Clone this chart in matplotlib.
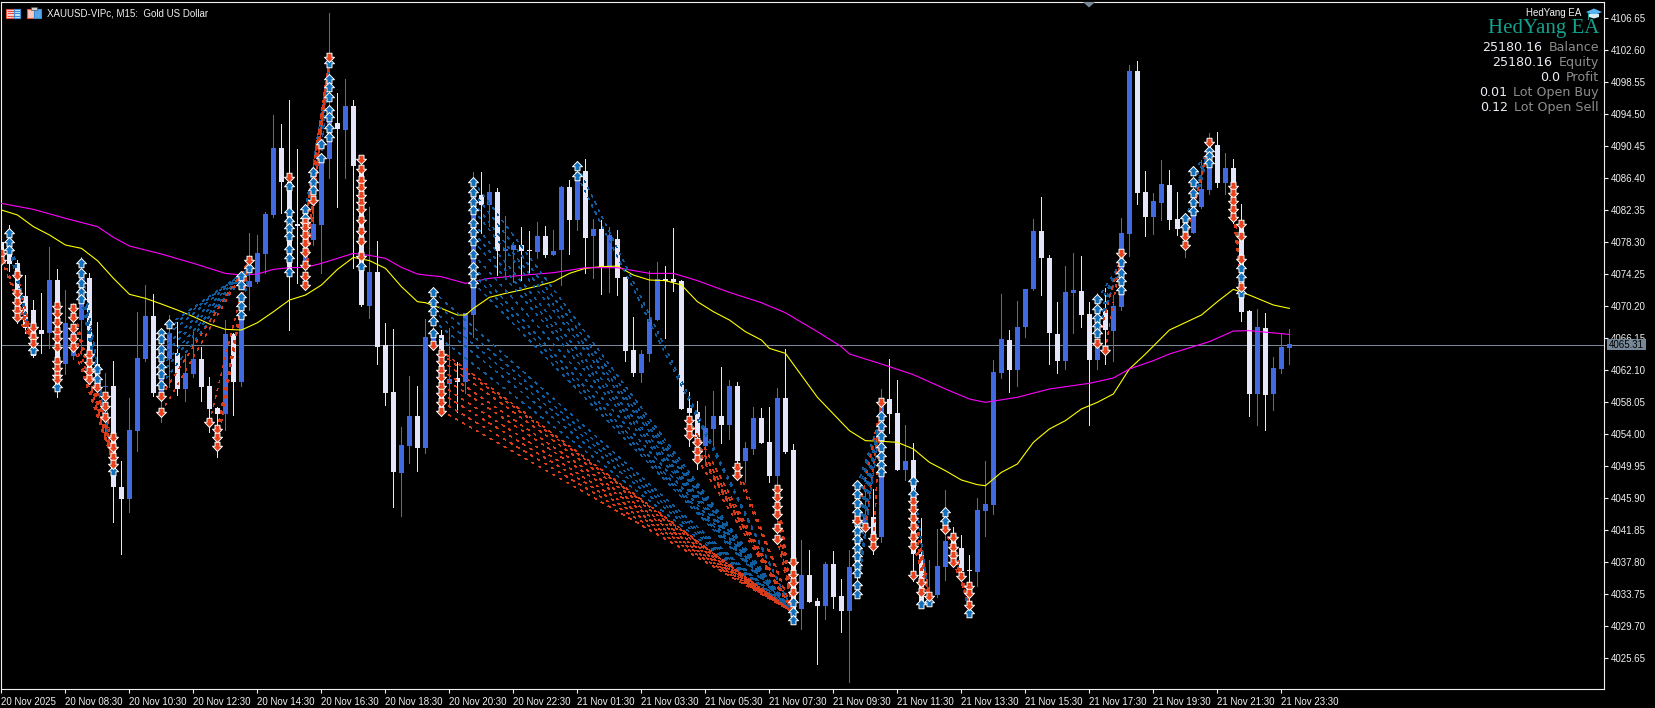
# XAUUSD M15 terminal screenshot: candles, two moving averages, trade arrows
import numpy as np
import matplotlib
matplotlib.use('Agg')
import matplotlib.pyplot as plt
from matplotlib.path import Path
from matplotlib.patches import Rectangle, Polygon

W, H = 1656, 708

body_top = [
4078.34,4076.87,4075.60,4071.46,4069.69,4067.16,4073.49,4073.49,4068.09,4066.74,
4073.91,4073.70,4062.86,4060.08,4060.08,4047.25,4054.51,4063.62,4068.93,4068.93,
4064.42,4066.74,4064.21,4061.72,4063.50,4063.50,4060.08,4057.30,4066.61,4066.61,
4068.85,4073.36,4076.87,4081.84,4090.16,4090.16,4085.94,4080.54,4081.93,4080.58,
4088.68,4093.53,4093.32,4095.51,4095.51,4087.84,4074.54,4074.54,4065.26,4059.28,
4052.61,4056.28,4056.28,4066.32,4067.16,4066.53,4060.97,4061.09,4069.27,4084.04,
4084.25,4084.67,4084.67,4077.37,4077.92,4077.92,4077.29,4079.06,4079.06,4077.16,
4085.30,4085.30,4087.20,4087.29,4079.95,4079.95,4079.19,4078.68,4073.91,4064.63,
4064.13,4068.55,4073.57,4073.57,4073.57,4073.36,4057.30,4056.75,4054.76,4056.32,
4056.32,4060.08,4060.08,4052.23,4056.03,4056.03,4052.99,4058.56,4058.56,4051.98,
4036.20,4036.20,4032.83,4037.55,4037.55,4033.54,4037.13,4044.30,4043.58,4043.46,
4058.22,4058.43,4056.62,4050.54,4050.71,4038.82,4033.54,4037.30,4040.50,4040.50,
4039.57,4036.79,4044.39,4045.14,4061.81,4065.98,4065.90,4067.50,4072.31,4079.69,
4079.69,4076.32,4066.66,4071.93,4072.23,4072.10,4069.19,4065.47,4069.69,4070.20,
4079.40,4099.94,4099.94,4084.63,4083.49,4085.64,4085.51,4081.21,4081.09,4081.93,
4085.01,4088.68,4090.58,4087.67,4087.67,4080.66,4069.57,4067.50,4067.37,4062.36,
4065.05,4065.35]
body_bot = [
4075.60,4075.52,4068.43,4067.37,4063.92,4066.66,4066.74,4059.91,4062.86,4063.92,
4068.43,4060.75,4060.12,4059.91,4047.25,4045.78,4045.78,4054.43,4063.50,4059.19,
4058.65,4063.50,4059.70,4059.70,4061.60,4060.00,4057.17,4056.54,4056.54,4060.63,
4060.63,4072.65,4073.28,4076.78,4081.72,4085.94,4074.76,4080.32,4075.18,4078.55,
4080.45,4088.81,4092.60,4092.48,4087.92,4070.33,4070.20,4065.05,4059.19,4049.24,
4049.07,4052.53,4052.23,4052.23,4065.05,4056.96,4060.33,4060.63,4060.63,4069.06,
4082.98,4082.98,4077.20,4077.20,4077.29,4077.20,4077.12,4077.08,4076.65,4076.65,
4077.29,4081.09,4081.09,4078.85,4079.06,4075.18,4075.18,4073.78,4064.55,4061.72,
4061.72,4064.13,4068.43,4073.36,4073.28,4057.17,4056.62,4053.58,4052.53,4054.64,
4055.19,4055.19,4050.63,4050.63,4052.11,4052.87,4048.73,4048.73,4051.68,4030.80,
4031.85,4032.78,4032.28,4032.28,4033.42,4031.64,4031.64,4036.28,4042.19,4039.87,
4040.93,4056.54,4049.45,4049.45,4038.82,4032.70,4032.70,4033.67,4037.21,4037.76,
4036.62,4036.62,4036.58,4044.30,4045.06,4061.72,4062.15,4062.15,4067.50,4072.31,
4076.32,4066.74,4063.29,4063.29,4071.89,4069.06,4063.37,4063.37,4067.16,4067.08,
4070.12,4079.31,4084.54,4081.51,4081.51,4083.28,4081.09,4079.95,4079.40,4079.48,
4082.69,4084.88,4085.77,4085.77,4081.09,4069.48,4059.07,4059.07,4058.94,4059.07,
4062.23,4064.93]
highs = [
4079.40,4080.45,4076.02,4074.12,4070.96,4071.80,4077.71,4074.84,4072.23,4070.54,
4076.44,4074.33,4068.22,4061.72,4063.29,4050.63,4058.56,4069.48,4072.86,4071.72,
4067.37,4069.06,4068.22,4064.13,4066.95,4065.05,4061.18,4057.38,4068.43,4066.74,
4071.80,4079.40,4079.19,4082.14,4094.37,4093.24,4096.27,4090.03,4082.77,4083.62,
4089.52,4107.24,4097.20,4098.93,4096.27,4089.10,4082.77,4078.43,4068.09,4067.25,
4054.93,4061.30,4060.04,4068.55,4072.44,4067.16,4067.37,4063.08,4069.35,4087.12,
4087.12,4085.64,4085.09,4081.59,4078.34,4080.24,4079.69,4080.87,4080.33,4079.82,
4085.39,4086.15,4088.26,4088.81,4081.21,4081.09,4080.16,4079.82,4073.91,4068.85,
4064.63,4074.63,4075.81,4075.26,4080.03,4073.49,4059.28,4058.22,4057.59,4059.49,
4062.44,4060.84,4060.54,4052.95,4057.38,4057.30,4057.46,4059.83,4064.71,4052.74,
4040.59,4039.32,4033.25,4037.76,4039.24,4035.65,4039.32,4048.10,4047.04,4047.04,
4059.70,4063.50,4060.84,4055.14,4052.82,4043.37,4038.06,4041.98,4046.92,4042.19,
4041.22,4038.69,4045.90,4050.63,4063.37,4071.72,4067.16,4070.83,4072.39,4081.21,
4084.04,4076.66,4070.75,4075.26,4076.95,4076.53,4070.75,4071.89,4072.44,4071.59,
4081.30,4100.70,4101.21,4087.24,4084.46,4088.68,4087.41,4084.63,4081.51,4087.41,
4088.68,4092.05,4092.22,4089.52,4088.81,4083.11,4069.70,4069.82,4069.36,4063.71,
4066.74,4067.25]
lows = [
4073.91,4074.67,4068.01,4066.74,4063.71,4064.21,4064.84,4058.65,4061.60,4063.50,
4064.12,4060.33,4059.49,4053.79,4042.82,4038.82,4044.09,4051.89,4063.29,4058.86,
4055.57,4059.91,4058.98,4058.22,4061.26,4058.22,4054.22,4051.14,4054.51,4056.41,
4060.12,4069.69,4073.07,4074.33,4081.42,4081.93,4067.16,4073.15,4072.23,4077.92,
4074.33,4086.36,4082.77,4086.36,4074.97,4070.20,4068.64,4062.86,4057.72,4044.81,
4043.67,4050.33,4049.36,4051.64,4064.63,4056.75,4057.80,4056.75,4059.15,4066.32,
4079.40,4080.37,4074.12,4074.12,4073.28,4073.49,4074.25,4076.23,4076.44,4076.65,
4072.86,4076.78,4079.82,4074.42,4073.70,4071.72,4072.01,4071.59,4063.20,4061.39,
4060.54,4063.20,4068.43,4066.11,4072.14,4057.17,4052.53,4049.57,4050.63,4052.02,
4052.82,4053.37,4048.31,4047.97,4051.47,4052.87,4047.97,4040.08,4051.60,4030.17,
4029.32,4032.78,4024.89,4030.59,4031.98,4028.90,4022.57,4033.33,4040.93,4038.82,
4040.29,4054.13,4049.45,4048.18,4035.44,4032.49,4032.49,4033.33,4035.53,4037.55,
4035.65,4031.22,4034.81,4041.14,4043.88,4061.05,4059.28,4060.04,4066.32,4072.23,
4071.59,4062.86,4061.68,4062.23,4066.74,4067.58,4055.19,4062.23,4062.86,4063.29,
4069.69,4076.53,4083.11,4079.06,4079.31,4081.09,4079.95,4079.18,4076.44,4079.40,
4082.56,4084.38,4085.30,4084.38,4080.66,4068.34,4056.32,4055.19,4054.55,4057.08,
4061.72,4062.86]
# u = bullish (blue), d = bearish (white); ten bars per group
directions = ("dddddduduu uddudduuud uuduudddud uuuuuddduu uududduddd "
              "uuduududuu duduuddudu ududududdd uuuddddduu duduuddudd "
              "uddudduDud uddudduuud dduuuuduuu ddduudduDu uudduudduu "
              "uududdduDu uu").lower().split()

yellow_bars = [0,2,4,6,8,10,12,14,16,18,20,22,24,26,28,30,32,34,36,38,40,42,44,46,48,50,52,53,55,57,58,59,61,63,65,
               67,69,71,73,75,77,79,81,83,85,87,89,91,93,95,96,98,102,105,106,108,110,112,114,116,118,120,122,123,
               125,127,129,131,133,135,137,139,141,143,146,150,152,154,156,159,161]
yellow_ma = [4082.35,4081.72,4080.24,4079.19,4077.92,4077.50,4075.94,4073.70,4071.68,4071.17,4070.45,4069.69,4068.85,
             4067.92,4067.25,4067.16,4068.09,4069.48,4070.96,4071.59,4072.86,4074.84,4076.36,4075.94,4074.97,4072.65,
             4070.75,4070.62,4069.90,4069.06,4069.06,4069.90,4071.30,4071.80,4072.23,4072.73,4073.28,4074.33,4074.97,
             4075.18,4075.26,4074.12,4073.49,4073.41,4072.86,4070.75,4069.48,4068.43,4066.95,4065.90,4064.84,4064.21,
             4058.65,4055.48,4054.43,4053.16,4053.08,4052.95,4052.11,4050.42,4049.36,4048.18,4047.59,4047.46,4049.15,
             4050.21,4052.95,4054.64,4055.69,4057.17,4058.01,4059.07,4062.23,4064.12,4067.16,4069.06,4070.75,4072.31,
             4071.59,4070.33,4069.90]
magenta_bars = [0,4,8,12,14,16,20,24,28,30,32,34,36,38,40,42,44,46,48,50,52,53,55,58,61,65,69,73,77,81,84,87,91,95,98,
                102,105,106,110,114,118,121,123,127,131,136,139,141,144,146,151,154,156,161]
magenta_ma = [4083.19,4082.43,4081.30,4080.24,4078.89,4077.79,4076.78,4075.60,4074.33,4074.12,4074.25,4074.84,4075.05,
              4075.09,4075.60,4076.23,4076.87,4076.61,4076.23,4075.09,4074.25,4074.12,4073.91,4073.07,4073.70,4074.08,
              4074.42,4075.05,4075.05,4074.33,4074.33,4073.41,4071.93,4070.62,4069.35,4066.95,4065.05,4064.13,4062.86,
              4061.51,4059.70,4058.43,4058.01,4058.65,4059.70,4060.42,4061.09,4062.23,4063.29,4064.13,4065.69,4067.04,
              4067.08,4066.61]

buy_bars = [1,4,7,10,12,14,20,21,30,31,36,38,39,40,41,45,54,59,72,99,107,110,114,115,116,118,121,137,140,148,149,151,155]
buy_prices = [
[4079.40,4078.34,4077.29],[4064.63],[4060.00],[4075.68,4074.33,4073.07,4072.01,4071.04],[4062.23,4060.97],[4049.36],
[4066.74,4065.98,4064.71,4063.79,4062.53,4061.60,4060.25],[4067.88],[4074.00,4072.86,4071.38,4070.20,4069.06],[4074.97],
[4085.39,4082.14,4081.00,4080.03,4079.06,4077.37,4076.23,4074.54],[4082.43,4081.30],[4087.20,4085.94,4084.88],
[4090.70,4088.89],[4100.91,4098.93,4097.88,4096.61,4095.01,4094.16,4092.69,4091.63],[4075.26],
[4072.01,4070.75,4069.57,4068.34,4066.74],
[4085.94,4084.59,4083.32,4082.35,4080.66,4079.52,4078.43,4076.74,4075.18,4074.21,4073.15],[4087.92,4086.65],
[4032.70,4031.43,4030.50],
[4047.59,4046.41,4045.27,4044.09,4042.82,4041.77,4040.71,4039.57,4038.52,4037.42,4036.37,4034.93,4033.75],
[4056.32,4055.06,4053.79,4052.40,4051.26,4050.12,4049.15],[4048.10,4046.41],[4032.49],[4032.70],[4044.09,4043.04],[4031.31],
[4071.09,4069.78,4068.64,4067.67,4066.74],[4075.81,4074.42,4073.41,4072.23],[4081.30,4080.16],
[4087.33,4085.94,4084.54,4083.41,4082.27],[4089.86,4089.18,4088.26],[4074.97,4073.83,4071.80]]

sell_bars = [0,2,4,7,9,11,12,13,14,20,26,27,31,36,38,39,41,45,54,55,86,87,92,97,99,107,108,109,110,114,115,116,118,119,
             120,121,137,138,140,148,151,154,155]
sell_prices = [
[4076.87,4076.02],[4074.12,4071.80,4070.75,4069.69,4068.77],[4067.58,4066.32,4065.47],
[4070.20,4069.27,4068.22,4067.08,4066.11,4065.05,4063.29,4062.36,4061.51,4060.97],
[4069.90,4068.85,4067.37,4066.11,4065.05],[4064.13,4063.08,4062.02,4060.97],[4059.91],[4058.86,4057.59,4056.11],
[4053.58,4052.40,4051.05,4050.21],[4058.86,4056.75],[4055.57],[4054.64,4053.58,4052.53],[4076.02],[4086.49],
[4080.87,4080.24,4079.19,4078.13,4077.08,4075.39,4074.00,4072.86],[4083.62],[4101.76],
[4088.76,4087.50,4086.15,4085.22,4084.25,4083.41,4082.43,4081.09,4079.73,4078.47,4076.53],[4065.26],
[4064.12,4063.29,4062.11,4061.26,4060.12,4059.15,4058.10,4056.96],[4055.82,4054.76,4053.92],[4052.95,4051.90,4050.84],
[4049.79,4048.86],[4047.04,4046.07,4044.93,4043.88,4042.06,4040.71],[4037.76,4036.28,4035.23,4033.96],[4043.16],[4042.19],
[4040.84,4039.87],[4058.01],[4045.57,4044.51,4043.37,4042.28,4041.01,4039.87,4036.20],[4035.23,4033.96],[4033.54],[4041.98],
[4040.93,4039.74,4038.73,4037.76],[4036.07],[4034.81,4033.84,4032.40],[4065.47],[4064.62],[4076.87],[4079.06,4077.92],
[4090.92],[4085.43,4084.54,4083.49,4082.43,4081.51],[4080.54,4079.10,4076.19,4072.56]]

# which entries closed where: entry bars, exit bar, exit price
buy_fan_entries = [[1],[10],[20,21,30],[38,39,40],[54,59,72],[107],[114],[118],[137],[148,149]]
buy_fan_exit_bar = [4,14,31,41,99,110,116,121,140,151]
buy_fan_exit_price = [4064.63,4049.36,4074.97,4100.91,4031.43,4056.32,4032.70,4031.31,4075.81,4089.86]
sell_fan_entries = [[0,2],[9,11,12,13],[20,26,27],[38,39],[54,55,86,87,92,97],[107,108,109],[114,115],[118,119,120],
                    [137,138],[148],[154]]
sell_fan_exit_bar = [4,14,31,41,99,110,116,121,140,151,155]
sell_fan_exit_price = [4065.47,4050.21,4076.02,4101.76,4031.43,4058.01,4033.54,4032.40,4076.87,4090.92,4072.56]

axis_prices = [4025.65 + 4.05*k for k in range(21)]
time_labels = ['20 Nov 2025','20 Nov 08:30','20 Nov 10:30','20 Nov 12:30','20 Nov 14:30','20 Nov 16:30','20 Nov 18:30',
               '20 Nov 20:30','20 Nov 22:30','21 Nov 01:30','21 Nov 03:30','21 Nov 05:30','21 Nov 07:30','21 Nov 09:30',
               '21 Nov 11:30','21 Nov 13:30','21 Nov 15:30','21 Nov 17:30','21 Nov 19:30','21 Nov 21:30','21 Nov 23:30']
last_price = 4065.31

panel_labels = ['Balance','Equity','Profit','Lot Open Buy','Lot Open Sell']
panel_values = ['25180.16','25180.16','0.0','0.01','0.12']

BLUE = '#4169e1'
WHITE = '#e6e6fa'
ARROW_BLUE = '#1270bd'
ARROW_RED = '#e8431f'
DASH_BLUE = '#0f5c9e'
DASH_RED = '#d83c1a'
SLATE = '#778899'

plt.rcParams['lines.scale_dashes'] = False
plt.rcParams['font.family'] = ['Liberation Sans', 'DejaVu Sans']

flags = ''.join(directions)
bars = np.arange(len(highs))
bar_colors = [BLUE if f == 'u' else WHITE for f in flags]

fig = plt.figure(figsize=(W/100, H/100), dpi=100, facecolor='black')
# plot area edges in pixels: 1.5..1604 across, 1.5..689 down
ax = fig.add_axes([1.5/W, 1-689/H, (1604-1.5)/W, (689-1.5)/H], facecolor='black')
ax.set_xlim((1.5-1.33)/8, (1604-1.33)/8)
ax.set_ylim(4108.93-0.12656*689, 4108.93-0.12656*1.5)

ax.vlines(bars, lows, highs, colors=bar_colors, linewidth=0.72, antialiased=False, zorder=2)
heights = np.maximum(np.array(body_top)-np.array(body_bot), 0.13)
ax.bar(bars, heights, bottom=body_bot, width=5/8, color=bar_colors, linewidth=0, antialiased=False, zorder=2.1)

ax.axhline(last_price, color=SLATE, lw=0.72, zorder=1)
ax.plot(yellow_bars, yellow_ma, color='#ffff00', lw=0.8, zorder=3)
ax.plot(magenta_bars, magenta_ma, color='#ff00ff', lw=0.8, zorder=3)

def draw_fans(entries, exit_bars, exit_prices, mark_bars, mark_prices, color):
    for group, xb, xp in zip(entries, exit_bars, exit_prices):
        for b in group:
            for p in mark_prices[mark_bars.index(b)]:
                # thin aliased lines, a wider one comes out two pixels thick
                ax.plot([b, xb], [p, xp], color=color, lw=0.3, ls=(0, (1.9, 4.0)),
                        antialiased=False, zorder=4)

draw_fans(buy_fan_entries, buy_fan_exit_bar, buy_fan_exit_price, buy_bars, buy_prices, DASH_BLUE)
draw_fans(sell_fan_entries, sell_fan_exit_bar, sell_fan_exit_price, sell_bars, sell_prices, DASH_RED)

up_arrow = Path([(0,1),(1,-0.05),(0.5,-0.05),(0.5,-0.85),(-0.5,-0.85),(-0.5,-0.05),(-1,-0.05),(0,1)], closed=True)
down_arrow = Path([(0,-1),(1,0.05),(0.5,0.05),(0.5,0.85),(-0.5,0.85),(-0.5,0.05),(-1,0.05),(0,-1)], closed=True)

sell_x = [b for b, ps in zip(sell_bars, sell_prices) for p in ps]
sell_y = [p for ps in sell_prices for p in ps]
buy_x = [b for b, ps in zip(buy_bars, buy_prices) for p in ps]
buy_y = [p for ps in buy_prices for p in ps]
ax.scatter(buy_x, buy_y, marker=up_arrow, s=52, c=ARROW_BLUE, edgecolors='white', linewidths=0.7, zorder=5)
ax.scatter(sell_x, sell_y, marker=down_arrow, s=52, c=ARROW_RED, edgecolors='white', linewidths=0.7, zorder=5)

# axes, ticks
for s in ax.spines.values():
    s.set_color('#f0f0f0')
    s.set_linewidth(0.8)
ax.yaxis.tick_right()
ax.set_yticks(axis_prices)
ax.set_yticklabels(['%.2f' % p for p in axis_prices])
ax.set_xticks(bars[::8])
ax.set_xticklabels(time_labels, ha='left')
ax.tick_params(axis='y', colors='#f0f0f0', length=3, width=0.8, pad=2.2, labelsize=7)
ax.tick_params(axis='x', colors='#f0f0f0', length=3, width=0.8, pad=2.6, labelsize=7)

# everything below is laid out in screen pixels
ov = fig.add_axes([0, 0, 1, 1], facecolor='none')
ov.set_xlim(0, W)
ov.set_ylim(H, 0)
ov.axis('off')

ov.add_patch(Rectangle((1607, 339), 39, 11, fc=SLATE, ec='none'))
ov.text(1626.5, 344.8, '%.2f' % last_price, color='black', fontsize=7, ha='center', va='center')
ov.add_patch(Polygon([(1083, 2), (1095, 2), (1089, 7.5)], fc=SLATE, ec='none'))

# title bar icons
ov.add_patch(Rectangle((6.5, 8.5), 14, 9, fc='#f8d8d8', ec='#e8503c', lw=0.8))
ov.add_patch(Rectangle((14, 8.5), 6.5, 9, fc='#cfe6f8', ec='#3c8cd8', lw=0.8))
for yy in (11.2, 13.4, 15.6):
    ov.plot([8, 13], [yy, yy], color='#e8503c', lw=0.8)
    ov.plot([15, 20], [yy, yy], color='#3c8cd8', lw=0.8)
ov.add_patch(Rectangle((27.5, 8.5), 6.5, 9, fc='#f8c8c0', ec='#e8503c', lw=0.8))
ov.add_patch(Rectangle((34.5, 8.5), 6.5, 9, fc='#58a8e8', ec='#3c8cd8', lw=0.8))
ov.add_patch(Rectangle((31, 7), 6, 3, fc='#d0d0d0', ec='#505050', lw=0.5))
ov.text(47.5, 13, 'XAUUSD-VIPc, M15:  Gold US Dollar', color='#f0f0f0', fontsize=7, ha='left', va='center')

# expert advisor panel
ov.text(1581, 13.2, 'HedYang EA', color='#f4f4f4', fontsize=7, ha='right', va='center')
ov.add_patch(Polygon([(1586, 12), (1594, 8.5), (1602, 12), (1594, 15.5)], fc='#58b4f0', ec='none'))
ov.add_patch(Polygon([(1589, 14), (1599, 14), (1599, 17), (1594, 18.5), (1589, 17)], fc='#d8ecf8', ec='none'))
ov.plot([1588, 1588], [13, 19], color='#1a9f8f', lw=0.8)
ov.text(1599, 28.5, 'HedYang EA', color='#14a08c', fontsize=15, family='Liberation Serif', ha='right', va='center')

renderer = fig.canvas.get_renderer()
for k, (lab, val) in enumerate(zip(panel_labels, panel_values)):
    yy = 51 + 15*k
    t = ov.text(1599, yy, lab, color='#8c8c8c', fontsize=9.1, family='DejaVu Sans', ha='right', va='baseline')
    w = t.get_window_extent(renderer).width
    ov.text(1599-w-6, yy, val, color='#ececf4', fontsize=9.1, family='DejaVu Sans', ha='right', va='baseline')

fig.savefig('out.png', dpi=100, facecolor='black')
